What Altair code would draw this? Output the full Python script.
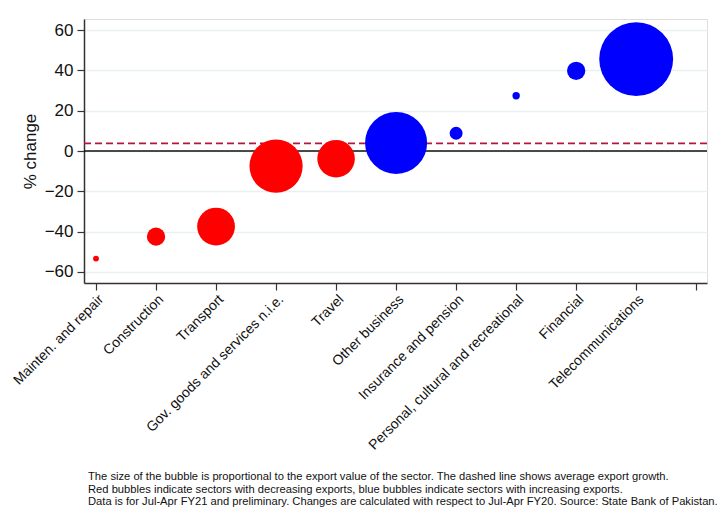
import math
import altair as alt
import pandas as pd

sectors = [
    "Mainten. and repair", "Construction", "Transport",
    "Gov. goods and services n.i.e.", "Travel", "Other business",
    "Insurance and pension", "Personal, cultural and recreational",
    "Financial", "Telecommunications",
]
pct_change = [-53.4, -42.5, -37.5, -7.5, -3.8, 4.0, 8.8, 27.4, 39.8, 45.6]
export_value = [10, 98, 418, 830, 413, 1127, 49, 16, 98, 1600]
avg_growth = 3.8

footnote = [
    "The size of the bubble is proportional to the export value of the sector. The dashed line shows average export growth.",
    "Red bubbles indicate sectors with decreasing exports, blue bubbles indicate sectors with increasing exports.",
    "Data is for Jul-Apr FY21 and preliminary. Changes are calculated with respect to Jul-Apr FY20. Source: State Bank of Pakistan.",
]

df = pd.DataFrame({
    "pos": list(range(1, len(sectors) + 1)),
    "sector": sectors,
    "pct": pct_change,
    "exports": export_value,
    "direction": ["Decreasing" if v < 0 else "Increasing" for v in pct_change],
})

labels = sectors + [""]
label_expr = "[" + ",".join("'" + s + "'" for s in labels) + "][datum.value - 1]"

FONT = "Liberation Sans"

x_enc = alt.X(
    "pos:Q",
    scale=alt.Scale(domain=[0.8, 11.18], nice=False, zero=False),
    axis=alt.Axis(
        title=None, values=list(range(1, 12)), labelExpr=label_expr,
        labelAngle=-45, labelFontSize=14, labelFont=FONT, labelColor="#111",
        grid=False, tickSize=7, tickColor="#333", domainColor="#333",
        domainWidth=1.5, tickWidth=1.2, labelPadding=2, labelOverlap=False,
        labelBound=False, labelFlush=False, labelLimit=0,
    ),
)
y_enc = alt.Y(
    "pct:Q",
    scale=alt.Scale(domain=[-65.5, 65.5], nice=False, zero=False),
    axis=alt.Axis(
        title="% change", titleFontSize=17, titleFont=FONT, titleFontWeight="normal",
        titleColor="#111", titlePadding=5,
        values=[-60, -40, -20, 0, 20, 40, 60], labelFontSize=17, labelFont=FONT,
        labelColor="#111", grid=True, gridColor="#EAF1F3", gridWidth=1.5,
        tickSize=7, tickColor="#333", domainColor="#333", domainWidth=1.5,
        tickWidth=1.2, labelPadding=4,
    ),
)

base = alt.Chart(df)

zero_line = alt.Chart(pd.DataFrame({"v": [0]})).mark_rule(color="#111", strokeWidth=1.5).encode(y="v:Q")
avg_line = alt.Chart(pd.DataFrame({"v": [avg_growth]})).mark_rule(
    color="#B5163E", strokeWidth=1.6, strokeDash=[7, 4]
).encode(y="v:Q")

max_area = math.pi * 41.7 ** 2
bubbles = base.mark_circle(opacity=1, stroke=None).encode(
    x=x_enc,
    y=y_enc,
    size=alt.Size("exports:Q", scale=alt.Scale(type="linear", domain=[0, max(export_value)], range=[0, max_area], zero=True), legend=None),
    color=alt.Color("direction:N", scale=alt.Scale(domain=["Decreasing", "Increasing"], range=["#FF0000", "#0000FF"]), legend=None),
)

chart = alt.layer(avg_line, zero_line, bubbles).properties(
    width=623, height=264,
    autosize=alt.AutoSizeParams(type="none"),
    padding={"left": 76, "top": 11, "right": 10, "bottom": 230},
    title=alt.TitleParams(
        text=footnote, orient="bottom", anchor="start", frame="group",
        font=FONT, fontSize=11.2, fontWeight="normal",
        color="#111", lineHeight=12.5, offset=19, dx=4,
    ),
).configure_view(stroke=None).configure(background="white")

chart.save("out.html", embed_options={"renderer": "svg", "actions": False})
